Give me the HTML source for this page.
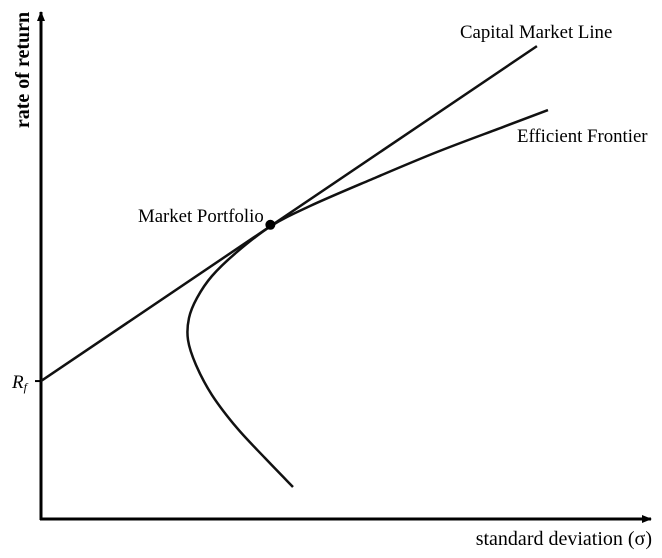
<!DOCTYPE html>
<html><head><meta charset="utf-8"><style>
body{margin:0;background:#fff;}
svg{display:block;font-family:"Liberation Serif",serif;}
</style></head><body>
<svg id="chart" width="662" height="558" viewBox="0 0 662 558">
<defs><marker id="ar" markerWidth="10" markerHeight="8" refX="9" refY="4" orient="auto" markerUnits="userSpaceOnUse"><path d="M0,0 L10,4 L0,8 Z" fill="#000"/></marker></defs>
<line x1="41" y1="520" x2="41" y2="12" stroke="#000" stroke-width="3" marker-end="url(#ar)"/>
<line x1="40" y1="519" x2="651" y2="519" stroke="#000" stroke-width="3" marker-end="url(#ar)"/>
<text x="29" y="70" transform="rotate(-90 29 70)" text-anchor="middle" font-size="20" font-weight="bold">rate of return</text>
<text x="652" y="545" text-anchor="end" font-size="20">standard deviation (σ)</text>
<g id="marks"></g>
</svg>
<script>
const frontierSigma=[41.31,36.72,32.13,28.03,25.41,24.10,24.26,25.57,28.03,32.13,37.70,44.10,53.93,64.92,75.74,83.11];
const frontierReturn=[6.29,11.98,17.88,24.36,30.26,35.17,39.49,43.42,47.74,52.46,57.56,61.49,66.60,72.10,77.01,80.35];
const riskFree=[27.1];
const cmlEnd=[81.3,92.9];
const marketPortfolio=[37.6,57.8];
const labels=["Capital Market Line","Efficient Frontier","Market Portfolio"];
const X=s=>41+s*6.1, Y=r=>519-r*5.09;
const NS="http://www.w3.org/2000/svg", g=document.getElementById('marks');
function mk(t,a){const e=document.createElementNS(NS,t);for(const k in a)e.setAttribute(k,a[k]);g.appendChild(e);return e;}
const pts=frontierSigma.map((s,i)=>[X(s),Y(frontierReturn[i])]);
let d="M"+pts[0][0]+","+pts[0][1];
for(let i=0;i<pts.length-1;i++){const p0=pts[Math.max(i-1,0)],p1=pts[i],p2=pts[i+1],p3=pts[Math.min(i+2,pts.length-1)];
d+=" C"+(p1[0]+(p2[0]-p0[0])/6)+","+(p1[1]+(p2[1]-p0[1])/6)+" "+(p2[0]-(p3[0]-p1[0])/6)+","+(p2[1]-(p3[1]-p1[1])/6)+" "+p2[0]+","+p2[1];}
const fr=mk('path',{d:d,fill:'none',stroke:'#111',"stroke-width":2.5});


const cml=mk('line',{x1:X(0),y1:Y(riskFree[0]),x2:X(cmlEnd[0]),y2:Y(cmlEnd[1]),stroke:'#111',"stroke-width":2.5});


const tk=mk('line',{x1:35,y1:Y(riskFree[0]),x2:41,y2:Y(riskFree[0]),stroke:'#000',"stroke-width":2});


const rf=mk('text',{x:12,y:Y(riskFree[0])+7,"font-size":19,"font-style":"italic"});
rf.innerHTML='R<tspan font-size="12" dy="3">f</tspan>';


const mp=mk('circle',{cx:X(marketPortfolio[0]),cy:Y(marketPortfolio[1]),r:5,fill:'#000'});


const l1=mk('text',{x:460,y:38,"font-size":18.8});l1.textContent=labels[0];


const l2=mk('text',{x:517,y:142,"font-size":18.8});l2.textContent=labels[1];


const l3=mk('text',{x:138,y:222,"font-size":18.8});l3.textContent=labels[2];


</script>
</body></html>
